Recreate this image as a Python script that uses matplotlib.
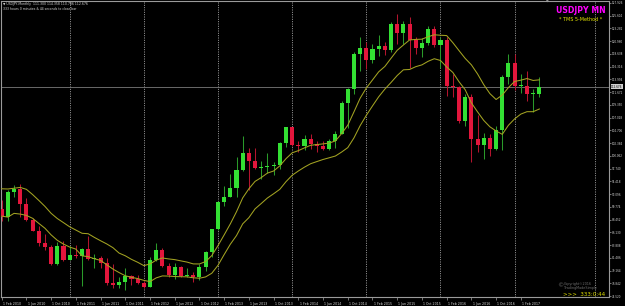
import matplotlib
matplotlib.use("Agg")
import matplotlib.pyplot as plt
from matplotlib.transforms import ScaledTranslation, blended_transform_factory

# ---------------- data (USDJPY monthly, Feb 2010 .. May 2017) ----------------
opens = [90.3, 88.9, 93.5, 94.0, 91.3, 88.4, 86.4, 84.2, 83.5, 80.4,
         83.7, 81.1, 82.0, 81.8, 83.1, 81.2, 81.5, 80.5, 76.8, 76.6,
         77.0, 78.2, 77.6, 76.9, 76.2, 81.1, 82.9, 80.0, 78.4, 79.8,
         78.1, 78.4, 77.9, 79.8, 82.5, 86.7, 91.7, 92.6, 94.2, 97.4,
         100.5, 99.1, 97.9, 98.1, 98.3, 98.4, 102.4, 105.3, 102.0, 101.8,
         103.2, 102.2, 101.8, 101.3, 102.8, 104.1, 109.7, 112.3, 118.6, 119.8,
         117.5, 119.6, 120.1, 119.4, 124.1, 122.5, 124.0, 121.2, 119.8, 120.6,
         123.1, 120.2, 121.1, 112.7, 112.6, 106.5, 110.7, 103.2, 102.1, 103.4,
         101.3, 104.8, 114.5, 117.0, 112.8, 112.8, 111.4, 111.3]
highs = [92.1, 93.8, 94.8, 95.0, 92.4, 88.7, 87.2, 85.9, 83.9, 84.4,
         84.5, 83.7, 83.9, 83.3, 85.5, 82.2, 81.8, 81.4, 80.3, 77.9,
         79.6, 78.3, 78.3, 77.3, 81.7, 84.2, 83.2, 80.5, 80.6, 79.9,
         79.7, 78.9, 80.3, 82.8, 86.8, 91.8, 94.5, 96.7, 99.9, 103.7,
         101.5, 101.5, 99.2, 100.6, 99.0, 102.5, 105.4, 105.4, 102.8, 103.8,
         104.1, 102.7, 102.8, 103.1, 104.5, 110.1, 112.5, 119.0, 121.8, 120.8,
         120.5, 122.0, 120.8, 124.5, 125.9, 124.6, 125.3, 121.7, 121.5, 123.8,
         123.7, 121.7, 121.7, 114.9, 112.7, 111.4, 111.4, 107.5, 104.3, 104.0,
         105.5, 114.8, 118.7, 118.6, 114.9, 115.5, 112.2, 114.358]
lows = [88.1, 88.1, 92.6, 88.9, 88.1, 86.3, 83.6, 82.9, 80.2, 80.2,
        80.9, 81.0, 81.4, 76.3, 81.0, 79.6, 79.7, 76.6, 75.9, 75.9,
        75.6, 76.6, 76.7, 75.9, 76.1, 80.9, 79.8, 78.0, 77.7, 77.9,
        77.9, 77.1, 77.4, 79.1, 81.7, 86.6, 90.9, 92.5, 92.6, 97.3,
        93.8, 97.6, 95.8, 96.9, 96.6, 97.6, 101.6, 101.8, 100.8, 101.2,
        101.4, 100.8, 101.1, 101.1, 101.5, 104.0, 105.2, 111.3, 115.6, 115.9,
        116.9, 118.3, 118.5, 118.9, 120.4, 120.4, 116.1, 118.6, 118.1, 120.2,
        119.9, 116.0, 111.0, 110.7, 106.0, 105.5, 99.0, 100.7, 99.5, 100.1,
        101.2, 101.2, 113.1, 112.1, 111.6, 110.1, 108.1, 110.786]
closes = [88.9, 93.5, 94.0, 91.3, 88.4, 86.4, 84.2, 83.5, 80.4, 83.7,
          81.1, 82.0, 81.8, 83.1, 81.2, 81.5, 80.5, 76.8, 76.6, 77.0,
          78.2, 77.6, 76.9, 76.2, 81.1, 82.9, 80.0, 78.4, 79.8, 78.1,
          78.4, 77.9, 79.8, 82.5, 86.7, 91.7, 92.6, 94.2, 97.4, 100.5,
          99.1, 97.9, 98.1, 98.3, 98.4, 102.4, 105.3, 102.0, 101.8, 103.2,
          102.2, 101.8, 101.3, 102.8, 104.1, 109.7, 112.3, 118.6, 119.8, 117.5,
          119.6, 120.1, 119.4, 124.1, 122.5, 124.0, 121.2, 119.8, 120.6, 123.1,
          120.2, 121.1, 112.7, 112.6, 106.5, 110.7, 103.2, 102.1, 103.4, 101.3,
          104.8, 114.5, 117.0, 112.8, 112.8, 111.4, 111.5, 112.676]
# the two yellow indicator lines (upper / lower channel)
line_hi = [94.06, 94.02, 94.16, 94.31, 93.96, 93.01, 91.95, 90.85, 89.59, 88.64,
           87.89, 87.13, 86.54, 85.95, 85.87, 85.20, 84.59, 84.01, 83.33, 82.34,
           81.85, 81.20, 80.67, 80.06, 80.36, 81.06, 81.45, 81.28, 81.15, 80.92,
           80.70, 80.37, 80.36, 80.80, 81.89, 83.70, 85.66, 87.67, 89.89, 92.40,
           94.06, 95.41, 96.10, 96.92, 97.30, 98.24, 99.54, 100.61, 101.01, 101.52,
           101.99, 102.12, 102.24, 102.40, 102.78, 104.11, 105.64, 108.07, 110.56, 112.42,
           113.89, 115.37, 116.35, 117.84, 119.30, 120.26, 121.18, 121.28, 121.32, 121.77,
           122.12, 122.04, 121.98, 120.69, 119.24, 117.82, 116.65, 114.99, 113.04, 111.40,
           110.33, 111.14, 112.51, 113.62, 113.85, 114.15, 113.80, 113.91]
line_lo = [89.08, 88.90, 89.58, 89.45, 89.21, 88.68, 87.76, 86.87, 85.66, 84.67,
           83.98, 83.44, 83.07, 81.84, 81.69, 81.31, 81.01, 80.21, 79.43, 78.79,
           78.21, 77.92, 77.70, 77.37, 77.14, 77.82, 78.18, 78.15, 78.07, 78.04,
           78.01, 77.84, 77.76, 78.00, 78.67, 80.11, 82.07, 83.96, 85.54, 87.67,
           88.80, 90.40, 91.38, 92.38, 93.15, 93.96, 95.35, 96.52, 97.30, 98.01,
           98.63, 99.02, 99.40, 99.71, 100.03, 100.75, 101.56, 103.33, 105.56, 107.44,
           109.16, 110.82, 112.22, 113.43, 114.70, 115.74, 115.80, 116.31, 116.64, 117.29,
           117.76, 117.44, 116.27, 115.26, 113.57, 112.11, 109.72, 108.08, 106.52, 105.35,
           104.60, 103.98, 105.64, 106.80, 107.67, 108.11, 108.11, 108.60]

x_tick_pos = [0, 4, 8, 12, 16, 20, 24, 28, 32, 36, 40, 44, 48, 52, 56, 60, 64, 68, 72, 76, 80, 84]
x_tick_labels = ["1 Feb 2010", "1 Jun 2010", "1 Oct 2010", "1 Feb 2011", "1 Jun 2011",
                 "1 Oct 2011", "1 Feb 2012", "1 Jun 2012", "1 Oct 2012", "1 Feb 2013",
                 "1 Jun 2013", "1 Oct 2013", "1 Feb 2014", "1 Jun 2014", "1 Oct 2014",
                 "1 Feb 2015", "1 Jun 2015", "1 Oct 2015", "1 Feb 2016", "1 Jun 2016",
                 "1 Oct 2016", "1 Feb 2017"]
separators = [11, 23, 35, 47, 59, 71, 83, 96]
y_ticks = [74.520, 76.842, 79.164, 81.486, 83.808, 86.130, 88.452, 90.774, 93.096,
           95.418, 97.740, 100.062, 102.384, 104.706, 107.028, 109.350, 111.672,
           113.994, 116.316, 118.638, 120.960, 123.282, 125.604, 127.926]
bid = 112.676

# ---------------- figure ----------------
W, H = 625, 306
fig = plt.figure(figsize=(W / 100, H / 100), dpi=100, facecolor="black")
ax = fig.add_axes([1 / W, (H - 296.5) / H, 608 / W, 295.5 / H], facecolor="black")

n = len(opens)
idx = list(range(n))
up_body, dn_body = "#33e033", "#e3163c"
up_wick, dn_wick = "#2a9a2a", "#b3142e"

ups = [c >= o for o, c in zip(opens, closes)]
wick_cols = [up_wick if u else dn_wick for u in ups]
ax.vlines(idx, lows, highs, colors=wick_cols, linewidth=0.75, zorder=2)
bottoms = [min(o, c) for o, c in zip(opens, closes)]
heights = [max(abs(c - o), 0.15) for o, c in zip(opens, closes)]
body_cols = [up_body if u else dn_body for u in ups]
ax.bar(idx, heights, bottom=bottoms, width=0.66, color=body_cols, linewidth=0, zorder=3)

ax.plot(idx, line_hi, color="#a3a322", linewidth=0.75, zorder=4)
ax.plot(idx, line_lo, color="#a3a322", linewidth=0.75, zorder=4)

for s in separators:
    ax.axvline(s, color="#b8b8b8", linewidth=0.6, linestyle=(0, (1.2, 1.6)), zorder=1)

ax.axhline(bid, color="#7a7a7a", linewidth=0.6, zorder=1)

ax.set_xlim(-0.11, 98.27)
ax.set_ylim(74.43, 128.28)

for sp in ax.spines.values():
    sp.set_color("#9a9a9a")
    sp.set_linewidth(0.8)

# y axis on the right
ax.yaxis.tick_right()
ax.set_yticks(y_ticks)
ax.set_yticklabels(["%.3f" % v for v in y_ticks])
ax.tick_params(axis="y", length=1.5, width=0.5, color="#a0a0a0", labelsize=1.95,
               labelcolor="#d8d8d8", pad=0.8)
for lab in ax.get_yticklabels():
    lab.set_fontfamily("DejaVu Sans")

# x axis labels
ax.set_xticks(x_tick_pos)
ax.set_xticklabels(x_tick_labels)
ax.tick_params(axis="x", length=2.5, width=0.5, color="#a0a0a0", labelsize=2.3,
               labelcolor="#d8d8d8", pad=1.3)
off = ScaledTranslation(1.2 / 100, 0, fig.dpi_scale_trans)
for lab in ax.get_xticklabels():
    lab.set_horizontalalignment("left")
    lab.set_transform(lab.get_transform() + off)

# bid label on price scale
tr = blended_transform_factory(ax.transAxes, ax.transData)
ax.text(1.0035, bid, "%.3f" % bid, transform=tr, fontsize=1.95, color="black",
        va="center", ha="left", clip_on=False,
        bbox=dict(boxstyle="square,pad=0.2", facecolor="#d0d0d0", edgecolor="none"),
        zorder=10)

# chart shift marker
fig.text(547 / W, 1 - 1.2 / H, "\u25bc", fontsize=2.5, color="#9a9a9a", ha="center", va="center")

# header texts
fig.text(3 / W, 1 - 4 / H, "\u25bc USDJPY,Monthly  111.300 114.358 110.786 112.676",
         fontsize=2.25, color="#d8d8d8", ha="left", va="center")
fig.text(3 / W, 1 - 9 / H, "333 hours 0 minutes & 44 seconds to close bar",
         fontsize=2.25, color="#d8d8d8", ha="left", va="center")

fig.text(580.5 / W, 1 - 10.3 / H, "USDJPY MN", fontsize=5.6, fontweight="bold",
         color="#ff00ff", ha="center", va="center")
fig.text(580.5 / W, 1 - 19.3 / H, "* TMS 5-Method *", fontsize=3.5,
         color="#e6e600", ha="center", va="center")

# bottom-right texts
fig.text(560.5 / W, 1 - 286 / H, "\u00a9", fontsize=4.5, color="#6e6e6e", ha="center", va="center")
fig.text(564 / W, 1 - 284.3 / H, "Copyright\u00a92016", fontsize=2.4, color="#6e6e6e",
         ha="left", va="center")
fig.text(564 / W, 1 - 288.3 / H, "TradingMadeSimple", fontsize=2.4, color="#6e6e6e",
         ha="left", va="center")
fig.text(563 / W, 1 - 294 / H, ">>>  333:0:44", fontsize=4.0, color="#e0e000",
         ha="left", va="center")

fig.savefig("out.png", dpi=100, facecolor="black")
